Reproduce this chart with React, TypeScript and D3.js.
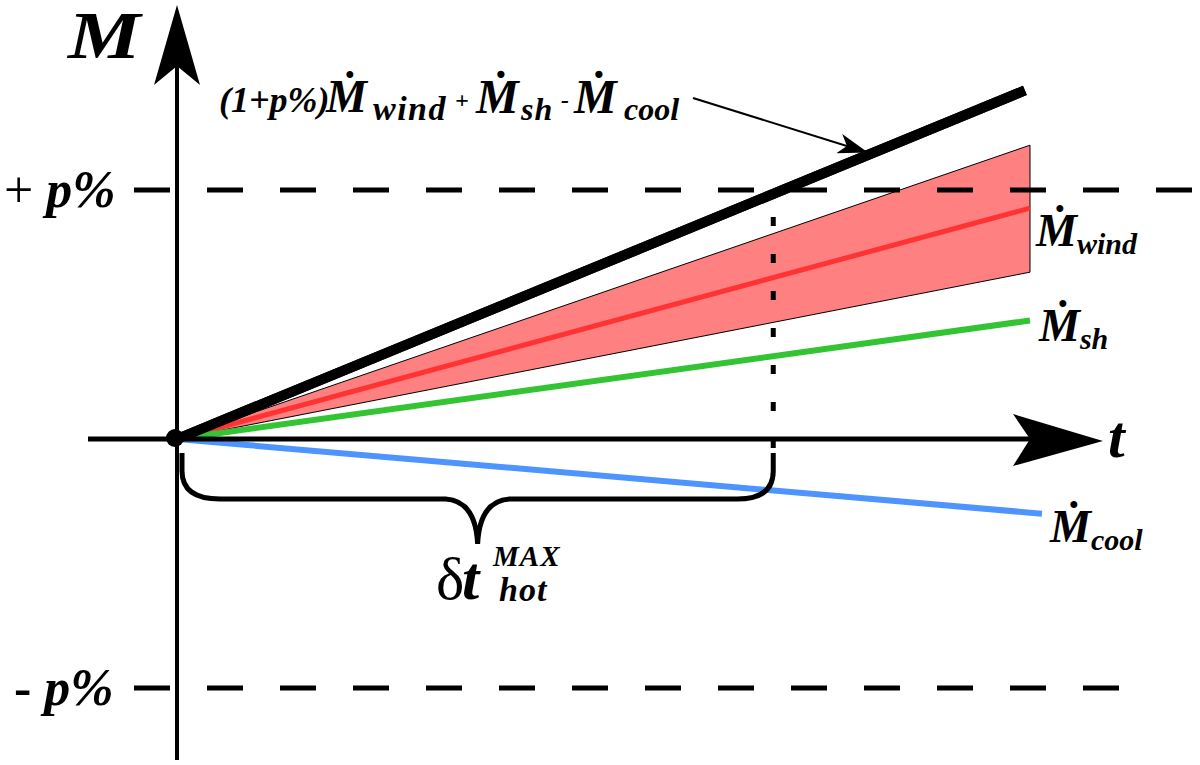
import React from 'react';
import * as d3 from 'd3';

// schematic: t is time as a fraction of the drawn span, M is mass change in units of p%
const seriesNames = ['total', 'wind', 'sh', 'cool'];
const seriesEndT = [0.994, 1, 1, 1.014];
const seriesEndM = [1.4, 0.927, 0.476, -0.3];
const seriesColors = ['#000000', '#ff3333', '#33c433', '#4d94ff'];
const windBandEndM = [0.67, 1.18];
const pLevels = [1, -1];
const pLabels = ['+ ', '- '];
const tHotMax = 0.699;

const W = 1200;
const H = 765;

const App = () => {
    const x = d3.scaleLinear().domain([0, 1]).range([177, 1030]);
    const y = d3.scaleLinear().domain([-1, 1]).range([688, 190]);

    const line = d3
        .line<[number, number]>()
        .x((d) => x(d[0]))
        .y((d) => y(d[1]));

    const x0 = x(0);
    const y0 = y(0);

    // red uncertainty band around the wind line
    const band = `M${x0},${y0}L${x(1)},${y(windBandEndM[1])}L${x(1)},${y(windBandEndM[0])}Z`;

    // curly brace under the axis, from t = 0 to tHotMax
    const bx0 = x0 + 5;
    const bx1 = x(tHotMax);
    const bxc = (bx0 + bx1) / 2;
    const bTop = y0 + 14;
    const bMid = bTop + 46;
    const bTip = bMid + 45;
    const brace = d3.path();
    brace.moveTo(bx0, bTop);
    brace.lineTo(bx0, bTop + 18);
    brace.quadraticCurveTo(bx0, bMid, bx0 + 38, bMid);
    brace.lineTo(bxc - 32, bMid);
    brace.quadraticCurveTo(bxc - 2, bMid + 2, bxc, bTip);
    brace.quadraticCurveTo(bxc + 2, bMid + 2, bxc + 32, bMid);
    brace.lineTo(bx1 - 36, bMid);
    brace.quadraticCurveTo(bx1, bMid, bx1, bMid - 28);
    brace.lineTo(bx1, bTop);

    const serif = '"Liberation Serif", "DejaVu Serif", serif';
    const bi = { fontFamily: serif, fontWeight: 'bold', fontStyle: 'italic' } as const;

    const mdot = (main: number, sub: number, name: string, dy = 8) => [
        <tspan key={name + 'm'} fontSize={main}>Ṁ</tspan>,
        <tspan key={name + 's'} fontSize={sub} dy={dy}>{name}</tspan>,
    ];

    return (
        <svg width={W} height={H} style={{ position: 'absolute', left: 0, top: 0, background: '#fff' }}>
            <defs>
                <marker id="ann" viewBox="0 0 30 20" refX="28" refY="10" markerWidth="30" markerHeight="20"
                    markerUnits="userSpaceOnUse" orient="auto">
                    <path d="M0,0 L30,10 L0,20 L8,10 Z" fill="#000" />
                </marker>
            </defs>

            {/* wind band */}
            <path d={band} fill="#ff8080" stroke="#000" strokeWidth={1} />

            {/* +/- p% levels */}
            {pLevels.map((p) => (
                <line key={p} x1={134} x2={p > 0 ? 1195 : 1130} y1={y(p)} y2={y(p)}
                    stroke="#000" strokeWidth={5} strokeDasharray="36 37" />
            ))}

            {/* series lines */}
            {seriesNames.map((n, i) => (
                <path key={n}
                    d={line([[0, 0], [seriesEndT[i], seriesEndM[i]]]) || ''}
                    stroke={seriesColors[i]}
                    strokeWidth={n === 'total' ? 10 : n === 'wind' ? 5 : 6}
                    fill="none" />
            ))}

            {/* axes */}
            <line x1={88} x2={1030} y1={y0} y2={y0} stroke="#000" strokeWidth={5} />
            <path d={`M1103,${y0 + 2}L1013,${y0 - 25}L1030,${y0}L1013,${y0 + 27}Z`} fill="#000" />
            <line x1={x0} x2={x0} y1={65} y2={760} stroke="#000" strokeWidth={4} />
            <path d={`M${x0},5L${x0 + 23},85L${x0},66L${x0 - 23},85Z`} fill="#000" />

            {/* delta t_hot marker */}
            <line x1={bx1} x2={bx1} y1={y(1) + 27} y2={bTop + 14} stroke="#000" strokeWidth={5}
                strokeDasharray="9 28" />
            <path d={brace.toString()} fill="none" stroke="#000" strokeWidth={5} />

            {/* total line drawn over */}
            <path d={line([[0, 0], [seriesEndT[0], seriesEndM[0]]]) || ''} stroke="#000" strokeWidth={10} fill="none" />
            <circle cx={x0 - 2} cy={y0 - 1} r={9} fill="#000" />

            {/* annotation arrow */}
            <line x1={693} y1={98} x2={866} y2={152} stroke="#000" strokeWidth={2} markerEnd="url(#ann)" />

            {/* labels */}
            <text transform="translate(68,58) scale(1.2,1)" fontSize={68} {...bi}>M</text>
            <text x={1108} y={457} fontSize={60} {...bi}>t</text>
            {pLevels.map((p, i) => (
                <text key={p} x={p > 0 ? 4 : 14} y={y(p) + 17} fontFamily={serif}>
                    <tspan fontSize={52} fontWeight={p > 0 ? 'normal' : 'bold'}>{pLabels[i]}</tspan>
                    <tspan fontSize={52} fontWeight="bold" fontStyle="italic">p%</tspan>
                </text>
            ))}

            <text x={1036} y={246} {...bi}>{mdot(46, 30, 'wind')}</text>
            <text x={1039} y={341} {...bi}>{mdot(46, 30, 'sh')}</text>
            <text x={1050} y={542} {...bi}>{mdot(46, 30, 'cool')}</text>

            <text y={112} {...bi}>
                <tspan x={219} fontSize={36}>(1+p%)</tspan>
                <tspan x={326} fontSize={46}>Ṁ</tspan>
                <tspan x={373} y={120} fontSize={34} letterSpacing={1.5}>wind</tspan>
                <tspan x={455} y={108} fontSize={24}>+</tspan>
                <tspan x={476} y={113} fontSize={48}>Ṁ</tspan>
                <tspan x={521} y={120} fontSize={32} letterSpacing={1}>sh</tspan>
                <tspan x={561} y={108} fontSize={24}>-</tspan>
                <tspan x={574} y={113} fontSize={48}>Ṁ</tspan>
                <tspan x={624} y={120} fontSize={32}>cool</tspan>
            </text>

            <text y={599} fontFamily={serif}>
                <tspan x={436} fontSize={60}>δ</tspan>
                <tspan x={462} fontSize={62} fontWeight="bold" fontStyle="italic">t</tspan>
                <tspan x={493} y={566} fontSize={29} fontWeight="bold" fontStyle="italic" letterSpacing={1}>MAX</tspan>
                <tspan x={499} y={601} fontSize={34} fontWeight="bold" fontStyle="italic" letterSpacing={1}>hot</tspan>
            </text>
        </svg>
    );
};

export default App;
